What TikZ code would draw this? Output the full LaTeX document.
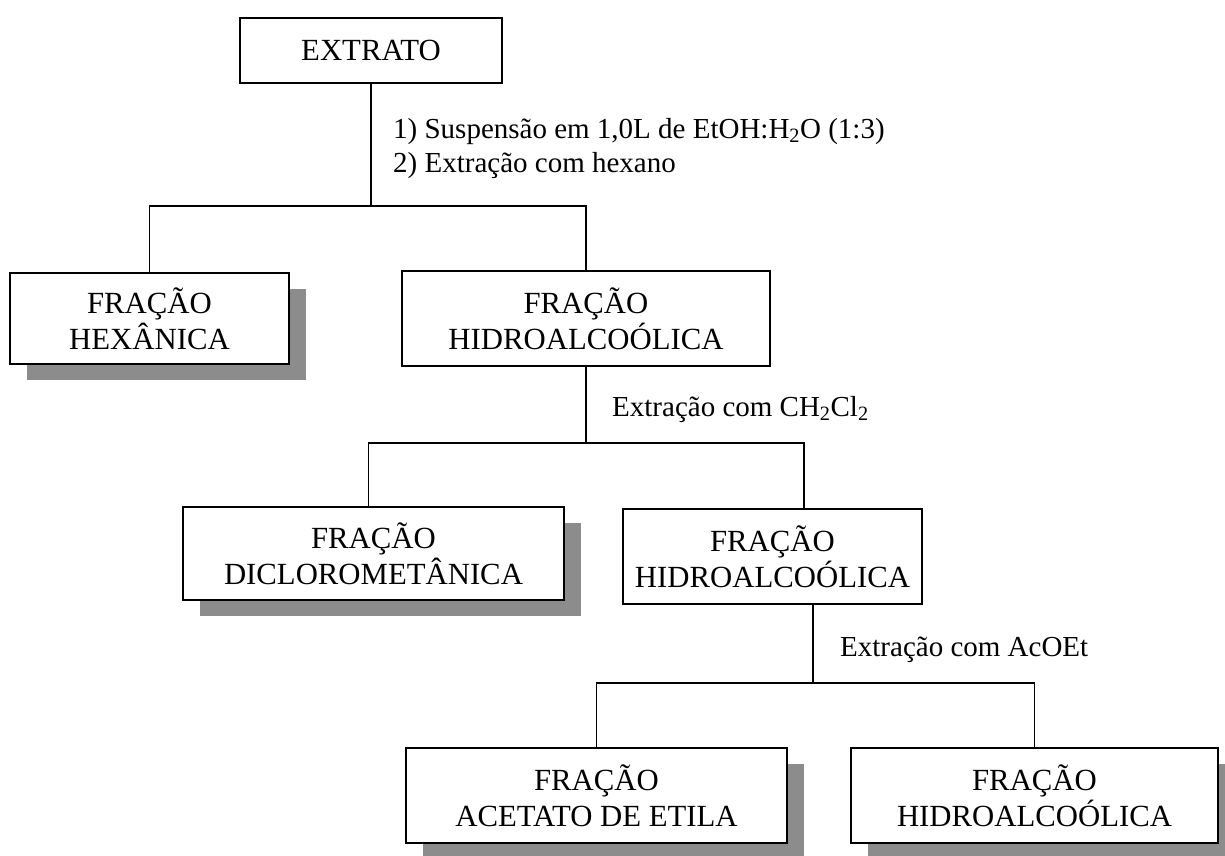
\documentclass[tikz,border=0pt]{standalone}
\usepackage{fontspec}
\setmainfont{Liberation Serif}
\usetikzlibrary{shadows}

\begin{document}
\begin{tikzpicture}[x=1pt,y=-1pt,
    frac/.style={draw,line width=1.6pt,fill=white,align=center,inner sep=0pt,
      font=\fontsize{30.75}{36}\selectfont},
    shadowed/.style={drop shadow={shadow xshift=17pt,shadow yshift=-16pt,
      opacity=1,fill=black!45,draw=none}},
    cond/.style={anchor=base west,inner sep=0pt,font=\fontsize{29}{34}\selectfont},
    link/.style={line width=1.6pt}]

  \useasboundingbox (0,0) rectangle (1225,855);

  % Extrato
  \node[frac,minimum width=262,minimum height=65] (extrato) at (371,50.5) {EXTRATO};
  \node[cond] (susp) at (393,138) {1) Suspensão em 1,0L de EtOH:H\textsubscript{2}O (1:3)};
  \node[cond] (hex) at (393,172) {2) Extração com hexano};

  % First split
  \node[frac,shadowed,minimum width=279,minimum height=91] (hexanica) at (149.5,318.5) {FRAÇÃO\\HEXÂNICA};
  \node[frac,minimum width=368,minimum height=95] (hidroA) at (586,318.5) {FRAÇÃO\\HIDROALCOÓLICA};
  \coordinate (jA) at (371,206);
  \draw[link] (extrato.south) -- (jA);
  \draw[link] (hexanica.north) |- (jA) -| (hidroA.north);

  % Second split
  \node[cond] (dcm) at (612,416) {Extração com CH\textsubscript{2}Cl\textsubscript{2}};
  \node[frac,shadowed,minimum width=381,minimum height=93] (dicloro) at (373.5,553.5) {FRAÇÃO\\DICLOROMETÂNICA};
  \node[frac,minimum width=299,minimum height=95] (hidroB) at (772.5,556.5) {FRAÇÃO\\HIDROALCOÓLICA};
  \coordinate (jB) at (586,443);
  \draw[link] (hidroA.south) -- (jB);
  \draw[link] ([xshift=-5pt]dicloro.north) |- (jB) -| ([xshift=31.5pt]hidroB.north);

  % Third split
  \node[cond] (acoet) at (840,656) {Extração com AcOEt};
  \node[frac,shadowed,minimum width=381,minimum height=95] (acetato) at (596.5,795.5) {FRAÇÃO\\ACETATO DE ETILA};
  \node[frac,shadowed,minimum width=367,minimum height=95] (hidroC) at (1034.5,795.5) {FRAÇÃO\\HIDROALCOÓLICA};
  \coordinate (jC) at (813,683);
  \draw[link] ([xshift=40.5pt]hidroB.south) -- (jC);
  \draw[link] (acetato.north) |- (jC) -| (hidroC.north);
\end{tikzpicture}
\end{document}
